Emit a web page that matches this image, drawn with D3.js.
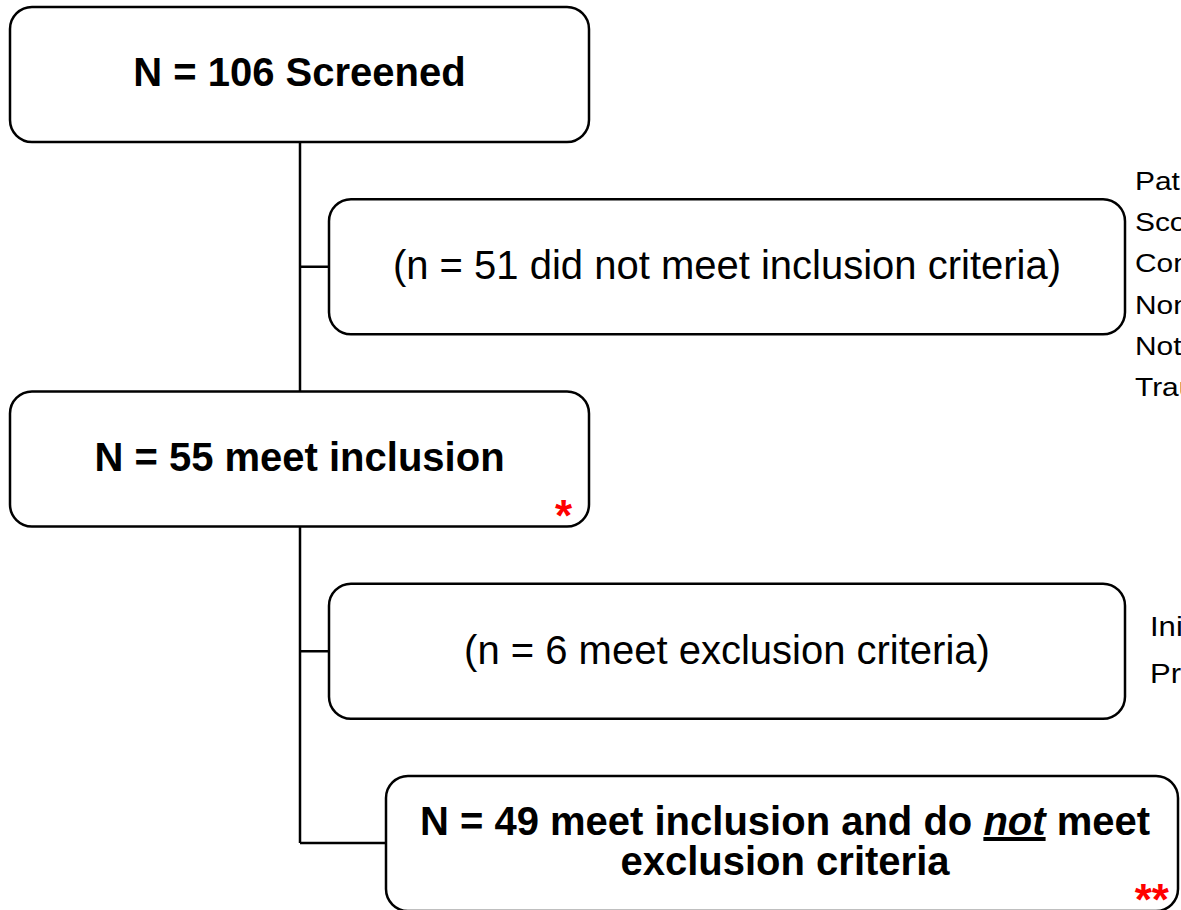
<!DOCTYPE html>
<html>
<head>
<meta charset="utf-8">
<script src="https://cdn.jsdelivr.net/npm/d3@7"></script>
<style>
  body { margin: 0; background: #fff; }
  svg { display: block; }
  text { font-family: "Liberation Sans", Arial, sans-serif; fill: #000; }
</style>
</head>
<body>
<svg id="flow"></svg>
<script>
// steps of the flow, top to bottom
var stepCounts = [106, 51, 55, 6, 49]
var stepLabels = [
    "N = 106 Screened",
    "(n = 51 did not meet inclusion criteria)",
    "N = 55 meet inclusion",
    "(n = 6 meet exclusion criteria)",
    "N = 49 meet inclusion and do not meet exclusion criteria"
]
var stepKinds = ["main", "side", "main", "side", "final"]
var stepMarks = ["", "", "*", "", "**"]

// reason lists to the right of the side boxes (cut by the page edge)
var inclusionReasons = ["Patient", "Score", "Con", "Non", "Not", "Trauma"]
var exclusionReasons = ["Initial", "Prior"]

function createFlow() {
    var width = 1181, height = 910;

    var svg = d3.select("#flow")
        .attr("width", width)
        .attr("height", height);

    // row index -> top of box
    var yScale = d3.scaleLinear().domain([0, stepCounts.length - 1]).range([7, 776]);
    var boxH = 135;

    // horizontal extent of each kind of box
    var xLeft = d3.scaleOrdinal().domain(["main", "side", "final"]).range([10, 329, 386]);
    var xRight = d3.scaleOrdinal().domain(["main", "side", "final"]).range([589, 1125, 1178]);
    var markInset = d3.scaleOrdinal().domain(["main", "final"]).range([17, 9]);
    var trunkX = 300;

    var steps = stepCounts.map(function (n, i) {
        return {n: n, label: stepLabels[i], kind: stepKinds[i], mark: stepMarks[i], i: i};
    });

    // trunk lines
    svg.append("line")
        .attr("x1", trunkX).attr("x2", trunkX)
        .attr("y1", yScale(0) + boxH).attr("y2", yScale(2))
        .attr("stroke", "#000").attr("stroke-width", 2.5);
    svg.append("line")
        .attr("x1", trunkX).attr("x2", trunkX)
        .attr("y1", yScale(2) + boxH).attr("y2", yScale(4) + 67)
        .attr("stroke", "#000").attr("stroke-width", 2.5);

    // branches to side/final boxes
    svg.selectAll("line.branch")
        .data(steps.filter(function (d) { return d.kind != "main"; }))
        .enter().append("line")
        .attr("class", "branch")
        .attr("x1", trunkX)
        .attr("x2", function (d) { return xLeft(d.kind); })
        .attr("y1", function (d) { return yScale(d.i) + (d.kind == "final" ? 67 : boxH / 2); })
        .attr("y2", function (d) { return yScale(d.i) + (d.kind == "final" ? 67 : boxH / 2); })
        .attr("stroke", "#000").attr("stroke-width", 2.5);

    svg.selectAll("rect.box")
        .data(steps)
        .enter().append("rect")
        .attr("class", "box")
        .attr("x", function (d) { return xLeft(d.kind); })
        .attr("y", function (d) { return yScale(d.i); })
        .attr("width", function (d) { return xRight(d.kind) - xLeft(d.kind); })
        .attr("height", boxH)
        .attr("rx", 22).attr("ry", 22)
        .attr("fill", "#fff")
        .attr("stroke", "#000")
        .attr("stroke-width", 2.5);

    // main box labels (bold)
    svg.selectAll("text.mainlabel")
        .data(steps.filter(function (d) { return d.kind == "main"; }))
        .enter().append("text")
        .attr("class", "mainlabel")
        .attr("x", function (d) { return (xLeft(d.kind) + xRight(d.kind)) / 2; })
        .attr("y", function (d) { return yScale(d.i) + 79; })
        .attr("text-anchor", "middle")
        .attr("font-weight", "bold")
        .attr("font-size", "40px")
        .text(function (d) { return d.label; });

    // side box labels (regular)
    svg.selectAll("text.sidelabel")
        .data(steps.filter(function (d) { return d.kind == "side"; }))
        .enter().append("text")
        .attr("class", "sidelabel")
        .attr("x", function (d) { return (xLeft(d.kind) + xRight(d.kind)) / 2; })
        .attr("y", function (d) { return yScale(d.i) + 80; })
        .attr("text-anchor", "middle")
        .attr("font-size", "40px")
        .text(function (d) { return d.label; });

    // final box: two lines, "not" italic + underlined
    var fin = steps[4];
    var cx = (xLeft(fin.kind) + xRight(fin.kind)) / 2 + 3;
    var t1 = svg.append("text")
        .attr("x", cx).attr("y", yScale(4) + 59)
        .attr("text-anchor", "middle")
        .attr("font-weight", "bold")
        .attr("font-size", "40px");
    t1.append("tspan").text("N = " + fin.n + " meet inclusion and do ");
    t1.append("tspan").attr("font-style", "italic").attr("text-decoration", "underline").text("not");
    t1.append("tspan").text(" meet");
    svg.append("text")
        .attr("x", cx).attr("y", yScale(4) + 99)
        .attr("text-anchor", "middle")
        .attr("font-weight", "bold")
        .attr("font-size", "40px")
        .text("exclusion criteria");

    // red asterisks
    svg.selectAll("text.mark")
        .data(steps.filter(function (d) { return d.mark != ""; }))
        .enter().append("text")
        .attr("class", "mark")
        .attr("x", function (d) { return xRight(d.kind) - markInset(d.kind); })
        .attr("y", function (d) { return yScale(d.i) + 139; })
        .attr("text-anchor", "end")
        .attr("font-weight", "bold")
        .attr("font-size", "44px")
        .style("fill", "#ff0000")
        .text(function (d) { return d.mark; });

    // reason lists, a little wider than the plain font
    var r1 = d3.scaleBand().domain(d3.range(inclusionReasons.length)).range([160, 408]);
    svg.selectAll("text.reason1")
        .data(inclusionReasons)
        .enter().append("text")
        .attr("class", "reason1")
        .attr("transform", function (d, i) {
            return "translate(1135," + (r1(i) + r1.bandwidth() / 2 + 9) + ") scale(1.15,1)";
        })
        .attr("font-size", "26px")
        .text(function (d) { return d; });

    var r2 = d3.scaleBand().domain(d3.range(exclusionReasons.length)).range([602, 696]);
    svg.selectAll("text.reason2")
        .data(exclusionReasons)
        .enter().append("text")
        .attr("class", "reason2")
        .attr("transform", function (d, i) {
            return "translate(1150," + (r2(i) + r2.bandwidth() / 2 + 10) + ") scale(1.15,1)";
        })
        .attr("font-size", "27px")
        .text(function (d) { return d; });
}

createFlow();
</script>
</body>
</html>
